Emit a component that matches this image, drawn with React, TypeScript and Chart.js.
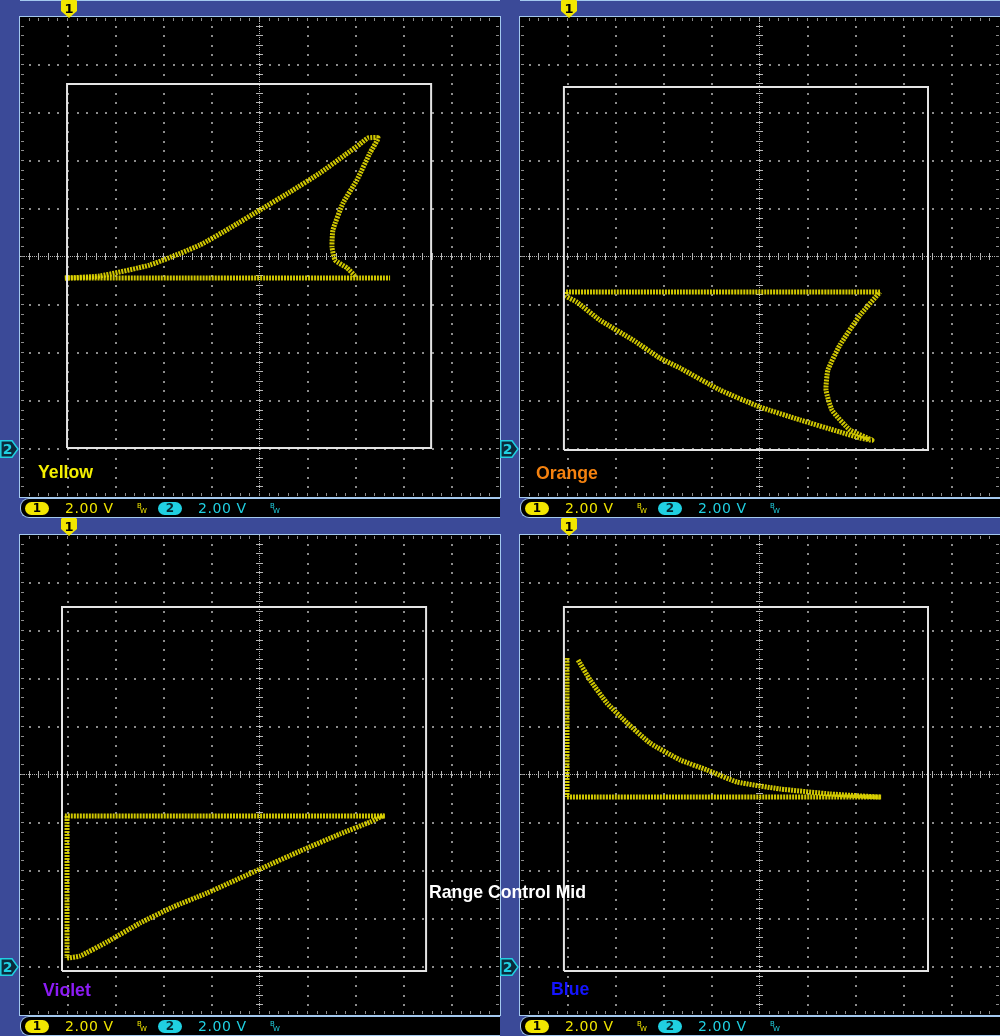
import React, { useEffect, useRef } from "react";
import { Chart, registerables } from "chart.js";

Chart.register(...registerables);

// ---- Scope settings (2.00 V/div, 10 x 10 divisions) ----
const voltsPerDiv = 2;
const axisMin = -10;
const axisMax = 10;
const minorStep = 0.4;
const channelScale = ["2.00 V", "2.00 V"];

// ---- Yellow (top-left), volts ----
const yellowBaseX = [-8.13, 5.42];
const yellowBaseY = [-0.88, -0.88];
const yellowLoopX = [-8.13, -6.67, -4.58, -2.5, -1.25, 0, 1.25, 2.5, 3.54, 4.17, 4.5, 4.92, 4.58, 4.04, 3.46, 3.04, 3.0, 3.13, 3.63, 3.96];
const yellowLoopY = [-0.88, -0.79, -0.33, 0.5, 1.21, 1.96, 2.71, 3.5, 4.25, 4.71, 4.96, 4.96, 4.33, 3.21, 2.25, 1.13, 0.42, -0.13, -0.46, -0.79];
const yellowFrameX = [-8.04, 7.13];
const yellowFrameY = [-7.96, 7.21];

// ---- Orange (top-right), volts ----
const orangeBaseX = [-8.08, 5.0];
const orangeBaseY = [-1.46, -1.46];
const orangeLoopX = [-8.08, -8.08, -7.63, -6.67, -5.29, -4.17, -3.33, -1.67, 0, 1.67, 3.33, 4.17, 4.67, 3.75, 3.0, 2.75, 2.83, 3.33, 4.17, 5.0];
const orangeLoopY = [-1.46, -1.63, -1.88, -2.63, -3.46, -4.21, -4.63, -5.54, -6.25, -6.79, -7.29, -7.54, -7.63, -7.21, -6.38, -5.54, -4.71, -3.67, -2.42, -1.46];
const orangeFrameX = [-8.17, 7.0];
const orangeFrameY = [-8.04, 7.08];

// ---- Violet (bottom-left), volts ----
const violetBaseX = [-8.13, 5.21];
const violetBaseY = [-1.71, -1.71];
const violetEdgeX = [-8.04, -8.04];
const violetEdgeY = [-1.71, -7.63];
const violetRampX = [-8.04, -7.5, -6.38, -5.0, -3.63, -2.21, 0, 1.67, 3.33, 4.58, 5.17];
const violetRampY = [-7.63, -7.54, -6.96, -6.17, -5.5, -4.92, -3.92, -3.17, -2.46, -1.96, -1.67];
const violetFrameX = [-8.25, 6.92];
const violetFrameY = [-8.17, 7.0];

// ---- Blue (bottom-right), volts ----
const blueEdgeX = [-8.04, -8.04];
const blueEdgeY = [4.88, -0.92];
const blueBaseX = [-8.04, 5.08];
const blueBaseY = [-0.92, -0.92];
const blueCurveX = [-7.58, -7.08, -6.38, -5.54, -4.58, -3.33, -2.21, -0.96, 0.83, 2.92, 5.0];
const blueCurveY = [4.79, 3.96, 3.0, 2.17, 1.33, 0.63, 0.21, -0.29, -0.58, -0.79, -0.92];
const blueFrameX = [-8.17, 7.0];
const blueFrameY = [-8.17, 7.0];

const BLUE_BG = "#3b4a98";
const LIGHT = "#a4c9ef";
const TRACE = "rgba(224,214,0,0.93)";
const CH1 = "#f2e600";
const CH2 = "#20d0e2";

type Trace = { x: number[]; y: number[] };
type PanelSpec = {
  left: number;
  top: number;
  traces: Trace[];
  frameX: number[];
  frameY: number[];
};

const panels: PanelSpec[] = [
  { left: 0, top: 0, traces: [{ x: yellowBaseX, y: yellowBaseY }, { x: yellowLoopX, y: yellowLoopY }], frameX: yellowFrameX, frameY: yellowFrameY },
  { left: 500, top: 0, traces: [{ x: orangeBaseX, y: orangeBaseY }, { x: orangeLoopX, y: orangeLoopY }], frameX: orangeFrameX, frameY: orangeFrameY },
  { left: 0, top: 518, traces: [{ x: violetBaseX, y: violetBaseY }, { x: violetEdgeX, y: violetEdgeY }, { x: violetRampX, y: violetRampY }], frameX: violetFrameX, frameY: violetFrameY },
  { left: 500, top: 518, traces: [{ x: blueEdgeX, y: blueEdgeY }, { x: blueBaseX, y: blueBaseY }, { x: blueCurveX, y: blueCurveY }], frameX: blueFrameX, frameY: blueFrameY },
];

const labels = [
  { text: "Yellow", color: "#f5f000", left: 38, baseline: 478 },
  { text: "Orange", color: "#f5820f", left: 536, baseline: 479 },
  { text: "Violet", color: "#8c1cf5", left: 43, baseline: 996 },
  { text: "Blue", color: "#1414ff", left: 551, baseline: 995 },
  { text: "Range Control Mid", color: "#ffffff", left: 429, baseline: 898 },
];

const scopeGrid = {
  id: "scopeGrid",
  beforeDatasetsDraw(chart: any) {
    const { ctx, chartArea: a, scales } = chart;
    const xs = scales.x;
    const ys = scales.y;
    ctx.save();
    ctx.fillStyle = "#000";
    ctx.fillRect(a.left, a.top, a.right - a.left, a.bottom - a.top);
    const majors: number[] = [];
    for (let v = axisMin + voltsPerDiv; v < axisMax - 1e-9; v += voltsPerDiv) majors.push(v);
    const minors: number[] = [];
    const n = Math.round((axisMax - axisMin) / minorStep);
    for (let k = 1; k < n; k++) minors.push(axisMin + k * minorStep);

    ctx.fillStyle = "#8c8c8c";
    for (const v of majors) {
      if (Math.abs(v) < 1e-9) continue;
      const px = Math.round(xs.getPixelForValue(v));
      const py = Math.round(ys.getPixelForValue(v));
      for (const m of minors) {
        const mx = Math.round(xs.getPixelForValue(m));
        const my = Math.round(ys.getPixelForValue(m));
        ctx.fillRect(px - 1, my - 1, 2, 2);
        ctx.fillRect(mx - 1, py - 1, 2, 2);
      }
    }
    // centre cross with ticks
    const cx = Math.round(xs.getPixelForValue(0));
    const cy = Math.round(ys.getPixelForValue(0));
    ctx.fillStyle = "#b4b4b4";
    for (let p = a.left; p < a.right; p += 2) ctx.fillRect(p, cy - 1, 1, 1);
    for (let p = a.top; p < a.bottom; p += 2) ctx.fillRect(cx - 1, p, 1, 1);
    for (const m of minors) {
      const mx = Math.round(xs.getPixelForValue(m));
      const my = Math.round(ys.getPixelForValue(m));
      ctx.fillRect(mx - 1, cy - 4, 1, 7);
      ctx.fillRect(cx - 4, my - 1, 7, 1);
    }
    // edge ticks
    ctx.fillStyle = "#8c8c8c";
    for (const m of minors) {
      const mx = Math.round(xs.getPixelForValue(m));
      const my = Math.round(ys.getPixelForValue(m));
      ctx.fillRect(mx - 1, a.top + 1, 1, 3);
      ctx.fillRect(mx - 1, a.bottom - 4, 1, 3);
      ctx.fillRect(a.left + 1, my - 1, 3, 1);
      ctx.fillRect(a.right - 4, my - 1, 3, 1);
    }
    ctx.restore();
  },
};

function Screen({ spec }: { spec: PanelSpec }) {
  const ref = useRef<HTMLCanvasElement>(null);
  useEffect(() => {
    const fx = spec.frameX;
    const fy = spec.frameY;
    const frameData = [
      { x: fx[0], y: fy[0] },
      { x: fx[1], y: fy[0] },
      { x: fx[1], y: fy[1] },
      { x: fx[0], y: fy[1] },
      { x: fx[0], y: fy[0] },
    ];
    const datasets: any[] = [
      {
        data: frameData,
        showLine: true,
        borderColor: "#e4e4e4",
        borderWidth: 2,
        pointRadius: 0,
        tension: 0,
        fill: false,
      },
      ...spec.traces.map((t) => ({
        data: t.x.map((x, i) => ({ x, y: t.y[i] })),
        showLine: true,
        borderColor: TRACE,
        borderWidth: 5,
        borderDash: [2, 1],
        pointRadius: 0,
        tension: 0.15,
        fill: false,
      })),
    ];
    const chart = new Chart(ref.current as HTMLCanvasElement, {
      type: "scatter",
      data: { datasets },
      options: {
        animation: false,
        responsive: false,
        devicePixelRatio: 1,
        layout: { padding: 0 },
        events: [],
        plugins: { legend: { display: false }, tooltip: { enabled: false } },
        scales: {
          x: { type: "linear", min: axisMin, max: axisMax, display: false },
          y: { type: "linear", min: axisMin, max: axisMax, display: false },
        },
      } as any,
      plugins: [scopeGrid],
    });
    return () => chart.destroy();
  }, []);
  return <canvas ref={ref} width={480} height={480} style={{ display: "block" }} />;
}

function BW({ color, left }: { color: string; left: number }) {
  return (
    <div style={{ position: "absolute", left, top: 3, width: 10, height: 14, color, fontFamily: "DejaVu Sans", fontSize: 7, lineHeight: "7px" }}>
      <span style={{ position: "absolute", left: 0, top: 1 }}>B</span>
      <span style={{ position: "absolute", left: 3, top: 6 }}>W</span>
    </div>
  );
}

function StatusBar() {
  const txt: React.CSSProperties = { position: "absolute", top: 1, fontFamily: "DejaVu Sans", fontSize: 14, lineHeight: "16px", letterSpacing: 0.6 };
  const pill: React.CSSProperties = {
    position: "absolute",
    top: 3,
    height: 13,
    borderRadius: 7,
    fontFamily: "DejaVu Sans",
    fontSize: 12,
    lineHeight: "13px",
    textAlign: "center",
    fontWeight: "bold",
  };
  return (
    <div
      style={{
        position: "absolute",
        left: 20,
        top: 498,
        width: 480,
        height: 20,
        boxSizing: "border-box",
        background: "#000",
        borderTop: `1px solid ${LIGHT}`,
        borderBottom: `1px solid ${LIGHT}`,
        borderLeft: `1px solid ${LIGHT}`,
        borderRadius: "9px 0 0 9px",
      }}
    >
      <div style={{ ...pill, left: 4, width: 24, background: CH1, color: "#000" }}>1</div>
      <div style={{ ...txt, left: 44, color: CH1 }}>{channelScale[0]}</div>
      <BW color={CH1} left={116} />
      <div style={{ ...pill, left: 137, width: 24, background: CH2, color: "#04262e" }}>2</div>
      <div style={{ ...txt, left: 177, color: CH2 }}>{channelScale[1]}</div>
      <BW color={CH2} left={249} />
    </div>
  );
}

function Marker1() {
  return (
    <svg width={16} height={18} style={{ position: "absolute", left: 61, top: 0 }}>
      <polygon points="1,0 15,0 16,1 16,11 8,18 0,11 0,1" fill={CH1} />
      <text x={8} y={13} fontSize={13} fontWeight="bold" fontFamily="DejaVu Sans" textAnchor="middle" fill="#000">1</text>
    </svg>
  );
}

function Marker2() {
  return (
    <svg width={19} height={18} style={{ position: "absolute", left: 0, top: 440 }}>
      <polygon points="0.8,0.8 12,0.8 18,9 12,17.2 0.8,17.2" fill="#0b2b3c" stroke={CH2} strokeWidth={1.5} />
      <text x={7.5} y={14} fontSize={14} fontWeight="bold" fontFamily="DejaVu Sans" textAnchor="middle" fill={CH2}>2</text>
    </svg>
  );
}

function Panel({ spec }: { spec: PanelSpec }) {
  return (
    <div style={{ position: "absolute", left: spec.left, top: spec.top, width: 500, height: 518 }}>
      {spec.top === 0 && <div style={{ position: "absolute", left: 20, top: 0, width: 480, height: 1, background: LIGHT }} />}
      <div style={{ position: "absolute", left: 20, top: 17, width: 480, height: 480, outline: `1px solid ${LIGHT}`, background: "#000" }}>
        <Screen spec={spec} />
      </div>
      <StatusBar />
      <Marker1 />
      <Marker2 />
    </div>
  );
}

export default function App() {
  return (
    <div style={{ position: "absolute", left: 0, top: 0, width: 1000, height: 1036, background: BLUE_BG, overflow: "hidden" }}>
      {panels.map((p, i) => (
        <Panel key={i} spec={p} />
      ))}
      {labels.map((l, i) => (
        <div
          key={i}
          style={{
            position: "absolute",
            left: l.left,
            top: l.baseline - 16,
            color: l.color,
            fontFamily: "Liberation Sans, Arial, sans-serif",
            fontWeight: "bold",
            fontSize: 19,
            lineHeight: "19px",
            whiteSpace: "nowrap",
            transform: "scaleX(0.93)",
            transformOrigin: "left center",
            zIndex: 5,
          }}
        >
          {l.text}
        </div>
      ))}
    </div>
  );
}
